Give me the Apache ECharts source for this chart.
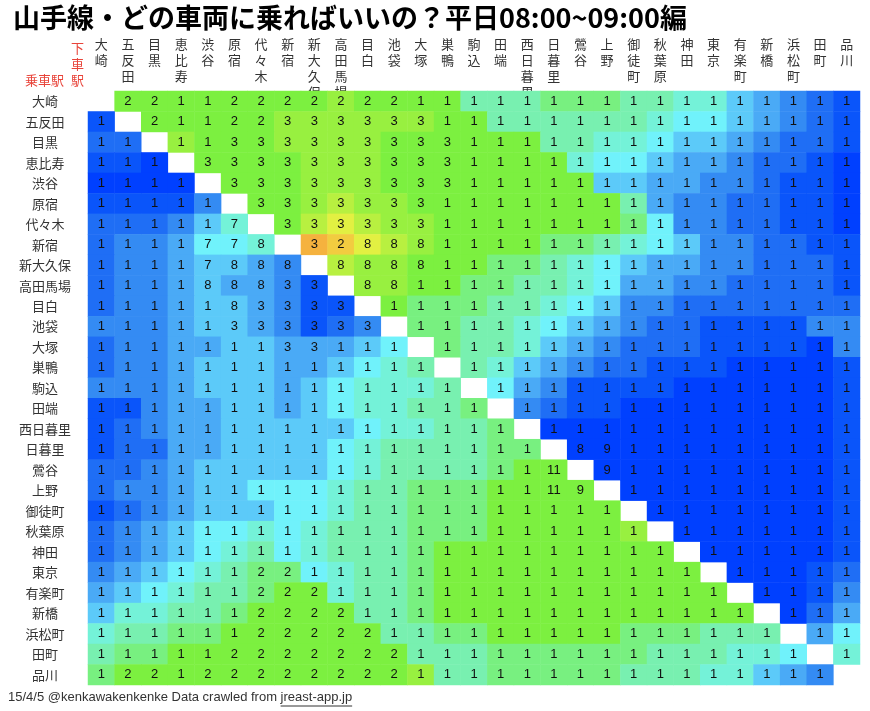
<!DOCTYPE html>
<html><head><meta charset="utf-8">
<script src="https://cdn.jsdelivr.net/npm/echarts@6/dist/echarts.min.js"></script>
<style>html,body{margin:0;padding:0;background:#fff}#c{width:870px;height:711px}</style>
</head><body><div id="c"></div>
<script>
const N = null;
const stations = ['大崎','五反田','目黒','恵比寿','渋谷','原宿','代々木','新宿','新大久保','高田馬場','目白','池袋','大塚','巣鴨','駒込','田端','西日暮里','日暮里','鶯谷','上野','御徒町','秋葉原','神田','東京','有楽町','新橋','浜松町','田町','品川'];

// recommended car number (row = boarding station, column = alighting station)
const cars = [
[N,2,2,1,1,2,2,2,2,2,2,2,1,1,1,1,1,1,1,1,1,1,1,1,1,1,1,1,1],
[1,N,2,1,1,2,2,3,3,3,3,3,3,1,1,1,1,1,1,1,1,1,1,1,1,1,1,1,1],
[1,1,N,1,1,3,3,3,3,3,3,3,3,3,1,1,1,1,1,1,1,1,1,1,1,1,1,1,1],
[1,1,1,N,3,3,3,3,3,3,3,3,3,3,1,1,1,1,1,1,1,1,1,1,1,1,1,1,1],
[1,1,1,1,N,3,3,3,3,3,3,3,3,3,1,1,1,1,1,1,1,1,1,1,1,1,1,1,1],
[1,1,1,1,1,N,3,3,3,3,3,3,3,1,1,1,1,1,1,1,1,1,1,1,1,1,1,1,1],
[1,1,1,1,1,7,N,3,3,3,3,3,3,1,1,1,1,1,1,1,1,1,1,1,1,1,1,1,1],
[1,1,1,1,7,7,8,N,3,2,8,8,8,1,1,1,1,1,1,1,1,1,1,1,1,1,1,1,1],
[1,1,1,1,7,8,8,8,N,8,8,8,8,1,1,1,1,1,1,1,1,1,1,1,1,1,1,1,1],
[1,1,1,1,8,8,8,3,3,N,8,8,1,1,1,1,1,1,1,1,1,1,1,1,1,1,1,1,1],
[1,1,1,1,1,8,3,3,3,3,N,1,1,1,1,1,1,1,1,1,1,1,1,1,1,1,1,1,1],
[1,1,1,1,1,3,3,3,3,3,3,N,1,1,1,1,1,1,1,1,1,1,1,1,1,1,1,1,1],
[1,1,1,1,1,1,1,3,3,1,1,1,N,1,1,1,1,1,1,1,1,1,1,1,1,1,1,1,1],
[1,1,1,1,1,1,1,1,1,1,1,1,1,N,1,1,1,1,1,1,1,1,1,1,1,1,1,1,1],
[1,1,1,1,1,1,1,1,1,1,1,1,1,1,N,1,1,1,1,1,1,1,1,1,1,1,1,1,1],
[1,1,1,1,1,1,1,1,1,1,1,1,1,1,1,N,1,1,1,1,1,1,1,1,1,1,1,1,1],
[1,1,1,1,1,1,1,1,1,1,1,1,1,1,1,1,N,1,1,1,1,1,1,1,1,1,1,1,1],
[1,1,1,1,1,1,1,1,1,1,1,1,1,1,1,1,1,N,8,9,1,1,1,1,1,1,1,1,1],
[1,1,1,1,1,1,1,1,1,1,1,1,1,1,1,1,1,11,N,9,1,1,1,1,1,1,1,1,1],
[1,1,1,1,1,1,1,1,1,1,1,1,1,1,1,1,1,11,9,N,1,1,1,1,1,1,1,1,1],
[1,1,1,1,1,1,1,1,1,1,1,1,1,1,1,1,1,1,1,1,N,1,1,1,1,1,1,1,1],
[1,1,1,1,1,1,1,1,1,1,1,1,1,1,1,1,1,1,1,1,1,N,1,1,1,1,1,1,1],
[1,1,1,1,1,1,1,1,1,1,1,1,1,1,1,1,1,1,1,1,1,1,N,1,1,1,1,1,1],
[1,1,1,1,1,1,2,2,1,1,1,1,1,1,1,1,1,1,1,1,1,1,1,N,1,1,1,1,1],
[1,1,1,1,1,1,2,2,2,1,1,1,1,1,1,1,1,1,1,1,1,1,1,1,N,1,1,1,1],
[1,1,1,1,1,1,2,2,2,2,1,1,1,1,1,1,1,1,1,1,1,1,1,1,1,N,1,1,1],
[1,1,1,1,1,1,2,2,2,2,2,1,1,1,1,1,1,1,1,1,1,1,1,1,1,1,N,1,1],
[1,1,1,1,1,2,2,2,2,2,2,2,1,1,1,1,1,1,1,1,1,1,1,1,1,1,1,N,1],
[1,2,2,1,2,2,2,2,2,2,2,2,1,1,1,1,1,1,1,1,1,1,1,1,1,1,1,1,N]
];

// colour level of each cell (0 = deep blue ... 15 = orange)
const shade = [
[N,10,10,10,10,10,10,10,10,11,10,10,10,10,8,8,8,9,9,9,8,8,7,7,5,4,3,2,1],
[1,N,10,10,10,10,10,11,11,11,11,11,11,10,10,8,8,8,8,8,8,7,6,6,5,4,3,2,1],
[2,2,N,11,10,10,10,11,11,11,11,10,10,10,10,10,10,8,8,7,7,6,5,5,4,3,2,2,1],
[1,1,0,N,10,10,10,10,11,11,11,10,10,10,10,10,10,10,7,6,6,5,4,4,3,2,2,1,0],
[0,0,0,0,N,10,10,10,11,11,11,10,10,10,10,10,10,10,10,5,5,4,4,3,3,2,1,1,0],
[1,1,1,1,3,N,10,10,11,12,11,11,10,10,10,10,10,10,10,10,8,4,3,3,2,2,1,1,0],
[2,2,2,3,5,7,N,10,12,13,12,11,11,10,10,10,10,10,10,10,9,6,3,3,2,2,1,1,0],
[2,3,3,4,6,6,7,N,15,14,13,12,11,10,10,10,10,9,9,8,7,6,5,3,3,2,2,1,1],
[2,3,3,4,5,5,4,3,N,12,11,11,10,10,10,9,9,8,7,6,5,4,4,3,3,2,2,2,1],
[2,3,3,4,5,4,4,3,1,N,11,11,10,10,9,9,8,8,7,6,4,4,3,3,2,2,2,2,1],
[2,3,3,4,5,5,4,3,1,1,N,10,9,9,9,8,8,7,6,5,3,3,2,2,2,2,2,2,2],
[3,3,3,4,5,5,4,3,1,2,3,N,9,9,8,8,7,6,5,4,3,2,2,1,1,1,1,3,3],
[2,3,3,4,4,5,5,4,4,4,5,6,N,9,8,8,7,5,4,3,2,2,2,1,1,1,1,0,3],
[2,3,3,4,5,5,5,4,4,5,6,7,8,N,8,7,5,4,3,2,2,1,1,1,0,0,0,0,1],
[3,3,3,4,5,5,5,4,5,6,7,7,7,8,N,6,4,3,1,1,1,1,0,0,0,0,0,0,1],
[1,1,3,4,4,5,5,4,5,6,7,7,8,8,9,N,3,2,1,1,0,0,0,0,0,0,0,0,1],
[1,2,3,4,4,5,5,5,5,5,6,7,7,8,8,9,N,0,0,0,0,0,0,0,0,0,0,0,1],
[1,2,2,4,4,5,5,5,5,6,7,8,8,8,8,9,9,N,0,0,0,0,0,0,0,0,0,0,1],
[2,2,3,4,5,5,5,5,5,6,7,8,8,8,8,9,10,10,N,0,0,0,0,0,0,0,0,0,1],
[2,3,3,4,5,5,6,6,6,7,8,8,9,9,9,10,10,10,10,N,0,0,0,0,0,0,0,0,1],
[1,2,3,4,5,5,5,6,6,7,8,8,9,9,9,10,10,10,10,10,N,0,0,0,0,0,0,0,1],
[2,3,4,5,6,6,7,6,7,8,8,8,9,9,9,10,10,10,10,10,11,N,0,0,0,0,0,0,1],
[2,3,4,5,6,7,8,6,7,8,8,8,9,10,10,10,10,10,10,10,10,10,N,0,0,0,0,0,1],
[3,4,5,6,7,8,9,9,6,7,8,8,9,10,10,10,10,10,10,10,10,10,10,N,0,0,0,1,2],
[4,5,6,7,8,8,9,10,10,7,8,8,9,10,10,10,10,10,10,10,10,10,10,10,N,0,0,1,3],
[5,7,7,8,8,9,10,10,10,10,8,8,9,10,10,10,10,10,10,10,10,10,10,10,10,N,0,2,4],
[7,8,8,9,9,10,10,10,10,10,10,8,8,9,9,10,10,10,10,10,9,9,9,8,8,8,N,4,6],
[8,9,9,10,10,10,10,10,10,10,10,10,8,8,8,9,9,9,9,9,9,8,8,8,7,7,6,N,7],
[9,10,10,10,10,10,10,10,10,10,10,10,11,8,8,9,9,9,9,9,8,8,8,7,7,5,4,3,N]
];

const palette = ['#0040ff','#0a55fa','#1f6ef5','#348bf3','#4aaaf6','#5ccaf9','#70f2fb','#74f2d8',
                 '#78f0b0','#78f080','#7cf040','#98f040','#b8f040','#e2f042','#f2cc40','#f5b23e'];

const data = [];
for (let r = 0; r < stations.length; r++) {
  for (let c = 0; c < stations.length; c++) {
    if (cars[r][c] !== null) data.push([c, r, shade[r][c], cars[r][c]]);
  }
}

const FONT = '"Liberation Sans", "Noto Sans CJK JP", sans-serif';
const JFONT = '"Noto Sans CJK JP", "Liberation Sans", sans-serif';

const footerPrefix = '15/4/5 @kenkawakenkenke Data crawled from ';
const footerLink = 'jreast-app.jp';
const ctx = document.createElement('canvas').getContext('2d');
ctx.font = '13px "Liberation Sans"';
const prefixW = ctx.measureText(footerPrefix).width;
const linkW = ctx.measureText(footerLink).width;

const chart = echarts.init(document.getElementById('c'), null, {renderer: 'canvas'});
chart.setOption({
  animation: false,
  backgroundColor: '#fff',
  title: [
    {text: '山手線・どの車両に乗ればいいの？平日08:00~09:00編', left: 8, top: -1,
     textStyle: {fontSize: 27, fontWeight: 'bold', color: '#000', fontFamily: JFONT}},
    {text: '下\n車\n駅', left: 66, top: 35,
     textStyle: {fontSize: 13, lineHeight: 16, fontWeight: 'normal', color: '#e8443a', fontFamily: JFONT}},
    {text: '乗車駅', left: 20, top: 69,
     textStyle: {fontSize: 13, fontWeight: 'normal', color: '#e8443a', fontFamily: JFONT}}
  ],
  graphic: [
    {type: 'text', left: 8, top: 691, style: {text: footerPrefix + footerLink, fontSize: 13, fill: '#333', fontFamily: '"Liberation Sans"'}},
    {type: 'line', shape: {x1: 8 + prefixW, y1: 706, x2: 8 + prefixW + linkW, y2: 706}, style: {stroke: '#333', lineWidth: 1}}
  ],
  grid: {left: 88, right: 10, top: 91, bottom: 26},
  xAxis: {
    type: 'category', data: stations, position: 'top',
    axisLine: {show: false}, axisTick: {show: false}, splitLine: {show: false}, splitArea: {show: false},
    axisLabel: {interval: 0, margin: 55, verticalAlign: 'top', lineHeight: 16, fontSize: 13, color: '#333',
      fontFamily: JFONT, formatter: s => s.split('').join('\n')}
  },
  yAxis: {
    type: 'category', data: stations, inverse: true,
    axisLine: {show: false}, axisTick: {show: false}, splitLine: {show: false}, splitArea: {show: false},
    axisLabel: {interval: 0, margin: 43, align: 'center', fontSize: 13, color: '#333', fontFamily: JFONT}
  },
  visualMap: {show: false, type: 'continuous', dimension: 2, min: 0, max: 15, inRange: {color: palette}},
  series: [{
    type: 'heatmap', data: data,
    label: {show: true, formatter: p => p.value[3], color: '#111', fontSize: 13, fontFamily: FONT},
    itemStyle: {borderWidth: 0},
    emphasis: {disabled: true}
  }]
});
</script></body></html>
